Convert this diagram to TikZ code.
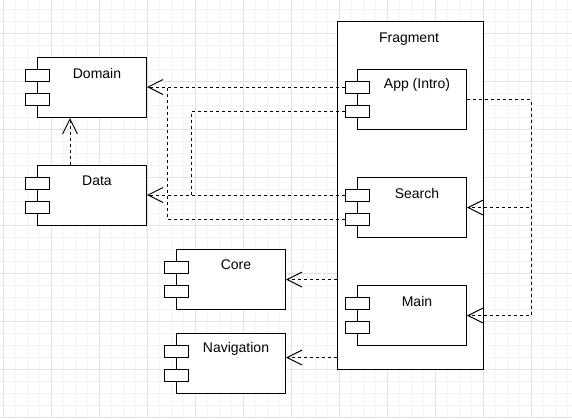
\documentclass[tikz,border=0pt]{standalone}
\usepackage{fontspec}
\setmainfont{Liberation Sans}
\usepackage{xcolor}
\usetikzlibrary{arrows.meta,positioning}

\definecolor{gridmajor}{HTML}{E2E2E2}
\definecolor{gridminor}{HTML}{F3F3F3}

\begin{document}
\begin{tikzpicture}[
  x=1pt, y=-1pt,
  every node/.style={font=\fontsize{14}{16}\selectfont},
  body/.style={draw, line width=1pt, fill=white, minimum width=109pt, minimum height=60pt, inner sep=0pt, anchor=north west},
  port/.style={draw, line width=1pt, fill=white, minimum width=24pt, minimum height=12pt, inner sep=0pt},
  title/.style={inner sep=0pt},
  dep/.style={line width=1pt, dash pattern=on 3pt off 3pt},
  arr/.style={dep, -{Straight Barb[length=15pt, width=15pt]}},
  comp/.pic={
    \node[body] (-body) at (0,0) {};
    \node[port] (-p1) at (0,18) {};
    \node[port] (-p2) at (0,42) {};
    \node[title] (-title) at (60,16) {#1};
  },
]
\fill[white] (0,0) rectangle (572,418);
\useasboundingbox (0,0) rectangle (572,418);

% grid
\foreach \gx in {3,15,...,567} \draw[gridminor, line width=1pt] (\gx,0) -- (\gx,418);
\foreach \gy in {9,21,...,417} \draw[gridminor, line width=1pt] (0,\gy) -- (572,\gy);
\foreach \gx in {3,51,...,531} \draw[gridmajor, line width=1pt] (\gx,0) -- (\gx,418);
\foreach \gy in {33,81,...,417} \draw[gridmajor, line width=1pt] (0,\gy) -- (572,\gy);

% lanes
\coordinate (laneA) at (167,0);
\coordinate (laneB) at (191,0);
\coordinate (laneC) at (531,0);

\node[body, minimum width=146pt, minimum height=348pt] (frag) at (337,21) {};
\node[title] (fragtitle) at (409,39) {Fragment};

\pic (domain) at (37,57) {comp=Domain};
\pic (data) at (37,165) {comp=Data};
\pic (core) at (176,249) {comp=Core};
\pic (navigation) at (176,333) {comp=Navigation};
\pic (app) at (357,69) {comp={App (Intro)}};
\pic (search) at (357,177) {comp=Search};
\pic (main) at (357,285) {comp=Main};

\draw[arr] ([xshift=33pt]data-body.north west) -- ([xshift=33pt]domain-body.south west);
\draw[arr] (app-p1.west) -- (app-p1.west -| domain-body.east);
\draw[dep] (search-p2.west) -| (laneA |- app-p1.west);
\draw[arr] (search-p1.west) -- (search-p1.west -| data-body.east);
\draw[dep] (app-p2.west) -| (laneB |- search-p1.west);
\draw[arr] (frag.west |- core-body.east) -- (core-body.east);
\draw[arr] (frag.west |- navigation-p1.south) -- (navigation-body.east |- navigation-p1.south);
\draw[arr] (app-body.east) -| (laneC |- search-body.east) -- (search-body.east);
\draw[arr] (app-body.east) -| (laneC |- main-body.east) -- (main-body.east);
\end{tikzpicture}
\end{document}
